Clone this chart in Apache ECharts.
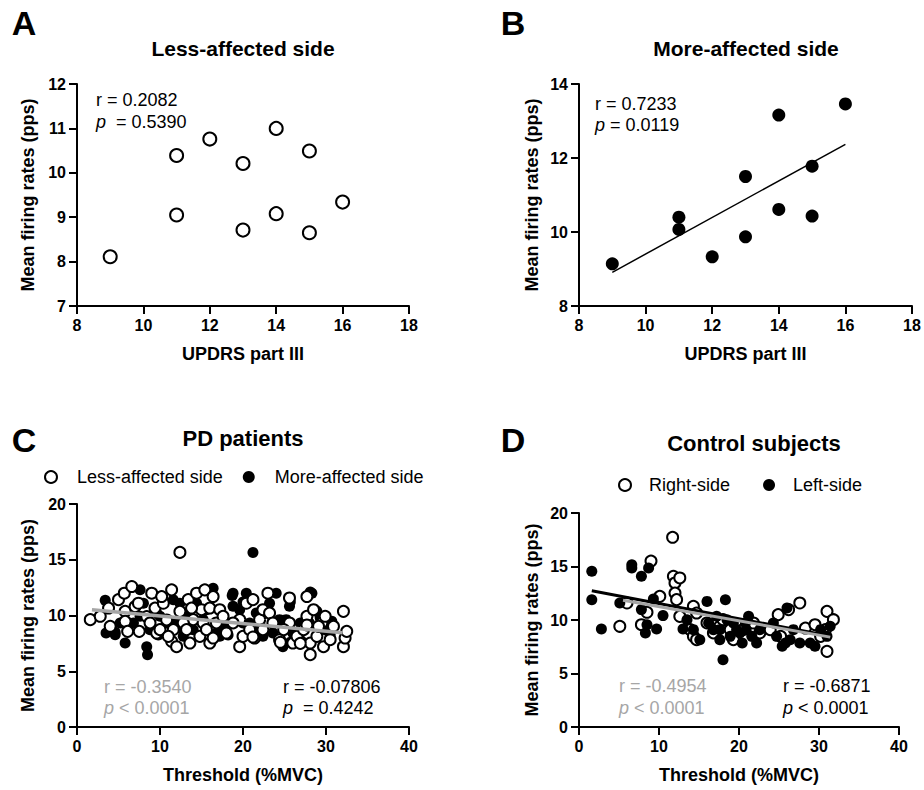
<!DOCTYPE html>
<html>
<head>
<meta charset="utf-8">
<script src="https://cdn.jsdelivr.net/npm/echarts@6/dist/echarts.min.js"></script>
<style>html,body{margin:0;padding:0;background:#fff}#c{width:924px;height:790px}</style>
</head>
<body>
<div id="c"></div>
<script>
// ---- Panel A: Less-affected side (UPDRS vs mean firing rate)
var lessA = [[9,8.11],[11,10.39],[11,9.05],[12,10.76],[13,10.21],[13,8.71],[14,11.0],[14,9.08],[15,10.49],[15,8.65],[16,9.34]];
// ---- Panel B: More-affected side
var moreB = [[9,9.14],[11,10.40],[11,10.07],[12,9.33],[13,11.50],[13,9.87],[14,13.16],[14,10.61],[15,11.78],[15,10.43],[16,13.46]];
var fitB = [[9,8.91],[16,12.37]];
// ---- Panel C: PD patients (threshold vs mean firing rate)
var lessC = [[1.6,9.63],[2.8,9.93],[3.8,10.67],[4.0,9.03],[5.0,11.42],[5.7,12.0],[5.8,10.37],[5.8,9.48],[6.1,8.58],[6.6,12.6],[7.0,10.8],[7.4,11.1],[7.5,8.58],[8.4,9.9],[9.0,12.0],[9.4,10.67],[9.6,8.43],[10.4,11.1],[10.2,11.7],[10.8,9.6],[11.4,12.3],[11.4,7.68],[11.6,8.73],[12.0,7.2],[12.4,15.66],[12.4,10.37],[13.4,11.42],[13.6,7.53],[14.0,9.63],[14.4,12.0],[14.8,8.13],[15.0,10.52],[15.4,12.3],[16.0,7.53],[16.0,10.67],[16.4,11.7],[17.2,10.52],[16.8,9.33],[18.0,8.43],[19.6,7.2],[19.6,9.63],[20.0,8.13],[20.4,11.1],[21.2,11.42],[21.4,7.98],[22.0,9.63],[22.4,10.52],[23.0,12.0],[23.2,10.22],[24.4,7.83],[25.6,9.33],[25.6,11.57],[26.0,7.53],[26.9,7.68],[27.7,11.7],[27.7,9.93],[28.1,6.49],[28.1,7.53],[28.5,10.52],[28.9,8.13],[29.5,9.33],[29.7,7.2],[29.9,9.93],[30.5,7.83],[30.9,9.03],[32.1,10.37],[32.1,7.2],[32.3,7.98],[32.5,8.58],[8.8,9.33],[10.0,8.73],[11.0,8.13],[12.8,9.33],[13.2,8.73],[13.8,10.67],[15.2,9.33],[15.6,8.73],[16.4,7.98],[17.6,9.93],[18.8,9.33],[20.8,8.73],[22.4,8.73],[23.6,9.33],[24.9,8.73],[26.5,8.13],[27.3,8.73],[29.1,9.03],[26.9,7.5],[24.5,7.6],[21.2,8.07],[27.7,9.15]];
var moreC = [[3.4,11.36],[3.5,8.43],[4.6,8.28],[5.8,7.53],[7.6,12.3],[8.0,11.1],[8.4,7.2],[8.5,6.49],[8.8,8.73],[9.6,10.22],[10.8,9.33],[11.6,11.42],[12.4,11.1],[13.2,10.22],[14.0,8.73],[15.2,9.63],[16.4,12.45],[16.8,8.43],[17.2,8.13],[18.8,12.0],[18.8,10.82],[19.6,10.52],[20.4,12.0],[21.2,15.66],[21.6,10.22],[22.4,8.13],[23.2,11.1],[24.0,12.0],[24.4,9.63],[25.2,9.63],[24.8,7.2],[25.6,10.82],[26.9,9.33],[28.3,12.0],[28.9,10.37],[29.9,8.73],[30.7,9.48],[30.5,8.28],[15.6,10.52],[18.0,9.33],[12.8,8.13],[10.0,9.93],[6.8,9.33],[5.2,9.33],[14.4,11.1],[20.8,9.33],[23.6,8.43],[26.0,8.43],[28.0,9.33],[7.6,9.93],[12.0,9.33],[17.6,8.73],[20.0,9.33],[4.6,8.5],[9.4,10.7],[12.2,8.9],[9.8,8.25],[17.5,9.15],[18.7,11.8],[18.2,8.25],[28.1,12.1],[25.7,11.2],[23.6,9.4],[20.0,11.2],[21.2,8.9],[25.7,7.6],[29.3,9.8],[30.5,9.15]];
var fitCLess = [[1.8,10.52],[32.0,8.46]];
// ---- Panel D: Control subjects
var rightD = [[11.7,17.73],[9.0,15.51],[10.1,12.21],[5.1,9.41],[7.8,9.56],[8.5,10.72],[11.8,14.08],[12.0,13.46],[12.0,12.52],[12.6,13.93],[12.2,11.9],[12.6,10.34],[13.9,9.1],[14.3,11.28],[14.3,8.47],[14.7,8.16],[14.7,10.65],[17.6,9.41],[18.0,10.03],[19.3,8.16],[20.5,9.1],[21.8,9.72],[22.6,8.79],[23.9,9.1],[24.9,10.5],[26.2,10.97],[27.6,11.59],[28.3,9.25],[29.5,9.56],[30.2,8.47],[31.0,10.81],[31.0,7.07],[31.8,10.03],[30.8,9.1],[16.0,9.72],[16.8,8.79],[18.9,9.1],[25.2,8.47],[6.0,11.59]];
var leftD = [[1.6,14.55],[1.6,11.9],[2.8,9.16],[5.1,11.59],[6.6,15.17],[6.6,14.86],[7.8,14.08],[8.7,14.86],[7.8,10.97],[8.3,8.79],[8.5,9.56],[9.3,11.96],[9.7,9.16],[10.5,10.41],[13.0,9.16],[13.5,10.03],[14.3,9.1],[15.1,8.16],[16.0,11.74],[16.2,9.72],[17.2,10.34],[17.6,8.16],[18.0,6.29],[18.3,11.9],[18.5,10.03],[18.9,8.47],[19.7,9.1],[20.4,7.85],[20.8,9.72],[21.2,10.34],[21.6,8.47],[22.2,7.85],[24.3,9.72],[25.4,7.54],[25.8,7.85],[26.4,8.16],[26.0,11.12],[27.6,7.85],[28.9,7.85],[29.5,7.54],[30.2,9.1],[31.0,8.47],[31.4,9.41],[19.3,9.72],[20.1,8.79],[16.8,9.1],[22.6,9.1],[24.7,8.47],[26.8,9.1],[20.9,9.1],[17.6,9.1]];
var fitDLeft = [[1.6,12.74],[31.4,8.5]];
var fitDRight = [[5.5,11.85],[31.4,8.4]];

var FONT = '"Liberation Sans", Arial, Helvetica, sans-serif';
var GRAY = '#a6a6a6';

function xAx(gi, min, max, interval, name) {
  return {
    type: 'value', gridIndex: gi, min: min, max: max, interval: interval,
    name: name, nameLocation: 'middle', nameGap: 39,
    nameTextStyle: {fontFamily: FONT, fontWeight: 'bold', fontSize: 18, color: '#000'},
    axisLine: {show: true, onZero: false, lineStyle: {color: '#000', width: 2}},
    axisTick: {show: true, length: 8, lineStyle: {color: '#000', width: 2}},
    axisLabel: {fontFamily: FONT, fontWeight: 'bold', fontSize: 16, color: '#000', margin: 11},
    splitLine: {show: false}
  };
}
function yAx(gi, min, max, interval, gap) {
  return {
    type: 'value', gridIndex: gi, min: min, max: max, interval: interval,
    name: 'Mean firing rates (pps)', nameLocation: 'middle', nameGap: gap,
    nameTextStyle: {fontFamily: FONT, fontWeight: 'bold', fontSize: 18, color: '#000'},
    axisLine: {show: true, onZero: false, lineStyle: {color: '#000', width: 2}},
    axisTick: {show: true, length: 8, lineStyle: {color: '#000', width: 2}},
    axisLabel: {fontFamily: FONT, fontWeight: 'bold', fontSize: 16, color: '#000', margin: 11},
    splitLine: {show: false}
  };
}
function openS(name, data, gi, size) {
  return {type: 'scatter', name: name, data: data, xAxisIndex: gi, yAxisIndex: gi,
    symbol: 'circle', symbolSize: size,
    itemStyle: {color: '#fff', borderColor: '#000', borderWidth: 2, opacity: 1},
    emphasis: {disabled: true}, silent: true};
}
function fillS(name, data, gi, size) {
  return {type: 'scatter', name: name, data: data, xAxisIndex: gi, yAxisIndex: gi,
    symbol: 'circle', symbolSize: size,
    itemStyle: {color: '#000', borderColor: '#000', borderWidth: 0, opacity: 1},
    emphasis: {disabled: true}, silent: true};
}
function fitS(data, gi, color, width) {
  return {type: 'line', data: data, xAxisIndex: gi, yAxisIndex: gi, showSymbol: false,
    symbol: 'none', lineStyle: {color: color, width: width}, silent: true, z: 5, animation: false};
}
function label(text, x, y, size) {
  return {type: 'text', x: x, y: y, style: {text: text, fontFamily: FONT, fontWeight: 'bold', fontSize: size, fill: '#000', align: 'center', verticalAlign: 'middle'}};
}
function stat(text, x, y, color) {
  return {type: 'text', x: x, y: y, style: {text: text, fontFamily: FONT, fontSize: 18, fill: color, verticalAlign: 'middle',
    rich: {i: {fontStyle: 'italic', fontFamily: FONT, fontSize: 18, fill: color}}}};
}

var chart = echarts.init(document.getElementById('c'), null, {renderer: 'svg'});
chart.setOption({
  animation: false,
  backgroundColor: '#fff',
  grid: [
    {left: 77, top: 84, width: 332, height: 222},
    {left: 579, top: 84, width: 333, height: 222},
    {left: 77, top: 504, width: 332, height: 223},
    {left: 579, top: 513, width: 320, height: 214}
  ],
  xAxis: [xAx(0, 8, 18, 2, 'UPDRS part III'), xAx(1, 8, 18, 2, 'UPDRS part III'),
          xAx(2, 0, 40, 10, 'Threshold (%MVC)'), xAx(3, 0, 40, 10, 'Threshold (%MVC)')],
  yAxis: [yAx(0, 7, 12, 1, 40), yAx(1, 8, 14, 2, 38), yAx(2, 0, 20, 5, 40), yAx(3, 0, 20, 5, 38)],
  legend: [
    {data: ['Less-affected side', 'More-affected side'], left: 39, top: 463, orient: 'horizontal',
     itemWidth: 12, itemHeight: 12, itemGap: 20, selectedMode: false,
     textStyle: {fontFamily: FONT, fontSize: 18, color: '#000', padding: [0, 0, 0, 15]}},
    {data: ['Right-side', 'Left-side'], left: 613, top: 471, orient: 'horizontal',
     itemWidth: 12, itemHeight: 12, itemGap: 33, selectedMode: false,
     textStyle: {fontFamily: FONT, fontSize: 18, color: '#000', padding: [0, 0, 0, 13]}}
  ],
  graphic: [
    label('A', 24, 23, 34), label('B', 513, 23, 34), label('C', 24, 440, 34), label('D', 513, 440, 34),
    label('Less-affected side', 243, 48, 21), label('More-affected side', 746, 48, 21),
    label('PD patients', 243, 438, 22), label('Control subjects', 754, 443, 22),
    stat('r = 0.2082', 96, 100, '#000'), stat('{i|p}  = 0.5390', 96, 122, '#000'),
    stat('r = 0.7233', 595, 104, '#000'), stat('{i|p} = 0.0119', 595, 125, '#000'),
    stat('r = -0.3540', 104, 687, GRAY), stat('{i|p} < 0.0001', 104, 708, GRAY),
    stat('r = -0.07806', 283, 687, '#000'), stat('{i|p}  = 0.4242', 283, 708, '#000'),
    stat('r = -0.4954', 619, 686, GRAY), stat('{i|p} < 0.0001', 619, 708, GRAY),
    stat('r = -0.6871', 783, 686, '#000'), stat('{i|p} < 0.0001', 783, 708, '#000')
  ],
  series: [
    openS('A-less', lessA, 0, 13),
    fitS(fitB, 1, '#000', 1.5),
    fillS('B-more', moreB, 1, 13),
    fillS('More-affected side', moreC, 2, 11),
    openS('Less-affected side', lessC, 2, 11),
    fitS(fitCLess, 2, GRAY, 3.5),
    openS('Right-side', rightD, 3, 11),
    fillS('Left-side', leftD, 3, 11),
    fitS(fitDLeft, 3, '#000', 3),
    fitS(fitDRight, 3, GRAY, 3)
  ]
});
</script>
</body>
</html>
